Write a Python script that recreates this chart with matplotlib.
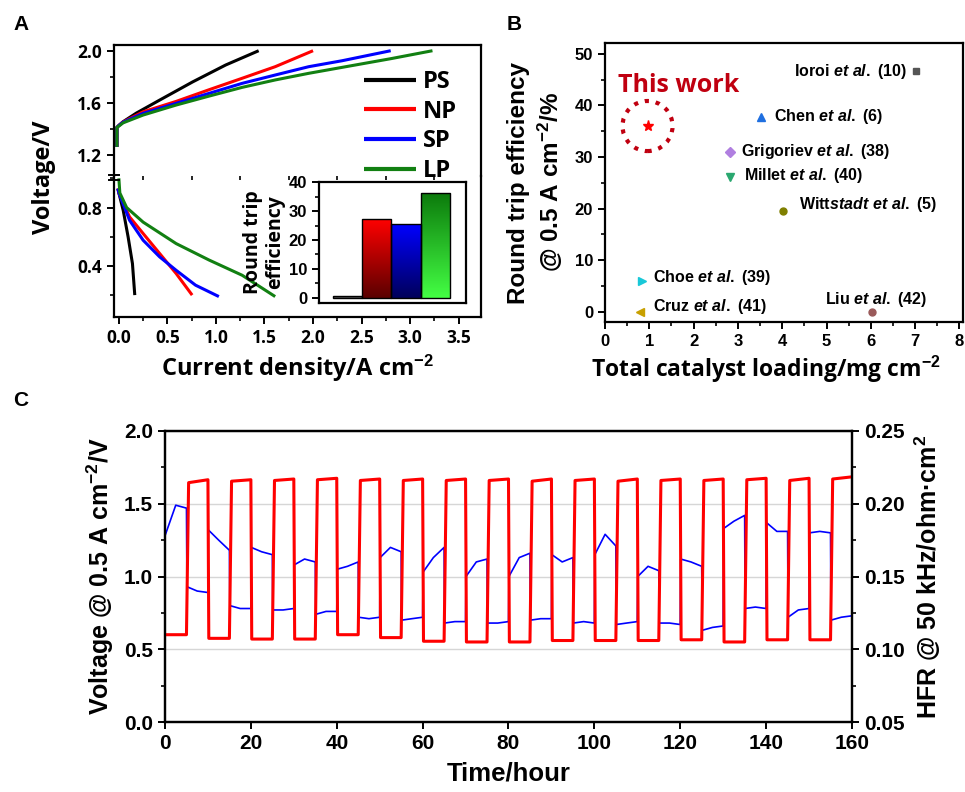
import numpy as np
import matplotlib.pyplot as plt
from matplotlib.colors import LinearSegmentedColormap
from matplotlib.ticker import MultipleLocator
from matplotlib.lines import Line2D

plt.rcParams['font.family'] = ['Liberation Sans', 'DejaVu Sans']
plt.rcParams['font.weight'] = 'bold'
plt.rcParams['axes.labelweight'] = 'bold'
plt.rcParams['mathtext.fontset'] = 'custom'
plt.rcParams['mathtext.rm'] = 'Liberation Sans:bold'
plt.rcParams['mathtext.it'] = 'Liberation Sans:italic:bold'
plt.rcParams['mathtext.bf'] = 'Liberation Sans:bold'
plt.rcParams['axes.linewidth'] = 1.6
for a in ['xtick', 'ytick']:
    plt.rcParams[a + '.major.width'] = 1.4
    plt.rcParams[a + '.minor.width'] = 1.2
    plt.rcParams[a + '.major.size'] = 5
    plt.rcParams[a + '.minor.size'] = 3

# ---------------- data: panel A polarization curves ----------------
# electrolysis branch (upper)
ps_ec_j = [-0.02, -0.02, 0.0, 0.044, 0.18, 0.42, 0.76, 1.10, 1.44]
ps_ec_v = [1.26, 1.41, 1.425, 1.454, 1.52, 1.62, 1.76, 1.89, 2.0]
np_ec_j = [-0.02, -0.02, 0.0, 0.044, 0.25, 0.59, 0.93, 1.27, 1.61, 2.0]
np_ec_v = [1.26, 1.41, 1.425, 1.452, 1.53, 1.61, 1.70, 1.788, 1.877, 2.0]
sp_ec_j = [-0.02, -0.02, 0.0, 0.044, 0.25, 0.59, 0.93, 1.27, 1.61, 1.955, 2.30, 2.80]
sp_ec_v = [1.26, 1.41, 1.425, 1.45, 1.518, 1.595, 1.672, 1.749, 1.813, 1.877, 1.923, 2.0]
lp_ec_j = [-0.02, -0.02, 0.0, 0.044, 0.25, 0.59, 0.93, 1.27, 1.61, 1.955, 2.30, 2.81, 3.23]
lp_ec_v = [1.26, 1.41, 1.42, 1.445, 1.505, 1.582, 1.651, 1.718, 1.775, 1.826, 1.872, 1.94, 2.0]
# fuel cell branch (lower)
ps_fc_j = [-0.01, 0.0, 0.045, 0.095, 0.14, 0.164]
ps_fc_v = [0.93, 0.9, 0.78, 0.60, 0.416, 0.2]
np_fc_j = [-0.01, 0.0, 0.11, 0.25, 0.42, 0.59, 0.755]
np_fc_v = [0.93, 0.9, 0.736, 0.622, 0.485, 0.348, 0.2]
sp_fc_j = [-0.01, 0.0, 0.11, 0.25, 0.42, 0.59, 0.79, 1.03]
sp_fc_v = [0.93, 0.9, 0.713, 0.576, 0.462, 0.37, 0.268, 0.19]
lp_fc_j = [0.0, 0.01, 0.08, 0.25, 0.59, 0.93, 1.27, 1.61]
lp_fc_v = [1.0, 0.90, 0.80, 0.70, 0.553, 0.44, 0.336, 0.19]

samples = ['PS', 'NP', 'SP', 'LP']
sample_colors = ['black', '#ff0000', '#0000ff', '#128012']
rte = [0.6, 27.3, 25.6, 36.2]  # inset bars

# ---------------- data: panel B ----------------
ref_x = [7.03, 3.52, 2.83, 2.83, 4.02, 0.83, 0.80, 6.03]
ref_y = [46.6, 37.8, 30.95, 26.2, 19.6, 6.0, 0.0, 0.0]
ref_labels = [r'Ioroi $\mathit{et\ al.}$ ($\mathit{10}$)',
              r'Chen $\mathit{et\ al.}$ ($\mathit{6}$)',
              r'Grigoriev $\mathit{et\ al.}$ (38)',
              r'Millet $\mathit{et\ al.}$ (40)',
              r'Witt$\mathit{stadt\ et\ al.}$ ($\mathit{5}$)',
              r'Choe $\mathit{et\ al.}$ (39)',
              r'Cruz $\mathit{et\ al.}$ (41)',
              r'Liu $\mathit{et\ al.}$ (42)']
ref_markers = ['s', '^', 'D', 'v', 'o', '>', '<', 'o']
ref_colors = ['#555555', '#1f6fe0', '#b07fe0', '#2aa870', '#7f7f00', '#18c8d8', '#c8a000', '#9a5a5a']
label_x = [6.80, 3.81, 3.07, 3.13, 4.37, 1.08, 1.08, 4.96]
label_y = [46.5, 37.8, 31.0, 26.45, 20.7, 6.6, 0.97, 2.3]
this_x, this_y = 0.96, 36.0

# ---------------- data: panel C (5 h segments, 0-160 h) ----------------
seg_t = np.arange(0, 161, 5)
red_low = [0.60, 0.575, 0.57, 0.57, 0.60, 0.58, 0.555, 0.55,
           0.55, 0.56, 0.56, 0.56, 0.565, 0.55, 0.565, 0.565]
red_high_start = [1.645, 1.655, 1.66, 1.665, 1.66, 1.66, 1.66, 1.66,
                  1.655, 1.66, 1.655, 1.66, 1.66, 1.665, 1.66, 1.67]
red_high_end = [1.665, 1.665, 1.67, 1.675, 1.67, 1.67, 1.67, 1.67,
                1.67, 1.67, 1.67, 1.67, 1.67, 1.675, 1.675, 1.685]
hfr = [(0.178, 0.199, 0.197), (0.143, 0.140, 0.139), (0.182, 0.175, 0.168), (0.130, 0.128, 0.128),
       (0.170, 0.167, 0.165), (0.127, 0.127, 0.128), (0.158, 0.162, 0.160), (0.124, 0.126, 0.126),
       (0.155, 0.157, 0.160), (0.122, 0.121, 0.122), (0.163, 0.170, 0.167), (0.120, 0.121, 0.122),
       (0.153, 0.163, 0.170), (0.118, 0.119, 0.119), (0.150, 0.160, 0.162), (0.118, 0.118, 0.119),
       (0.150, 0.163, 0.166), (0.120, 0.121, 0.121), (0.165, 0.160, 0.163), (0.118, 0.119, 0.118),
       (0.165, 0.179, 0.171), (0.117, 0.118, 0.119), (0.150, 0.157, 0.154), (0.118, 0.118, 0.117),
       (0.162, 0.160, 0.157), (0.113, 0.115, 0.116), (0.183, 0.188, 0.192), (0.128, 0.129, 0.128),
       (0.187, 0.181, 0.181), (0.122, 0.127, 0.128), (0.180, 0.181, 0.180), (0.120, 0.122, 0.123)]

W, H = 965, 792


def box(l, t, r, b):
    return [l / W, 1 - b / H, (r - l) / W, (b - t) / H]


fig = plt.figure(figsize=(W / 100, H / 100), dpi=100)

# ================= Panel A =================
axl = fig.add_axes(box(114, 176, 481, 317), zorder=1)
axu = fig.add_axes(box(114, 45, 481, 176), zorder=2, sharex=axl)
axu.patch.set_visible(False)

ec = [(ps_ec_j, ps_ec_v), (np_ec_j, np_ec_v), (sp_ec_j, sp_ec_v), (lp_ec_j, lp_ec_v)]
fc = [(ps_fc_j, ps_fc_v), (np_fc_j, np_fc_v), (sp_fc_j, sp_fc_v), (lp_fc_j, lp_fc_v)]
for (j, v), name, c in zip(ec, samples, sample_colors):
    axu.plot(j, v, color=c, lw=2.2, label=name, solid_capstyle='butt', solid_joinstyle='round')
for (j, v), c in zip(fc, sample_colors):
    axl.plot(j, v, color=c, lw=2.2, solid_capstyle='butt', solid_joinstyle='round')

axl.set_xlim(-0.05, 3.73)
axu.set_ylim(1.036, 2.044)
axl.set_ylim(0.05, 1.016)
axu.spines['bottom'].set_visible(False)
axl.spines['top'].set_visible(False)
axu.tick_params(axis='x', bottom=False, labelbottom=False)
axu.set_yticks([1.2, 1.6, 2.0])
axu.yaxis.set_minor_locator(MultipleLocator(0.2))
axl.set_yticks([0.4, 0.8])
axl.yaxis.set_minor_locator(MultipleLocator(0.2))
axl.set_xticks(np.arange(0, 3.6, 0.5))
axl.xaxis.set_minor_locator(MultipleLocator(0.25))
for ax in (axu, axl):
    ax.tick_params(which='both', direction='out', labelsize=12.5)
    for lab in ax.get_xticklabels() + ax.get_yticklabels():
        lab.set_fontfamily('Open Sans')
axl.set_xlabel('Current density/A cm$^{-2}$', fontsize=17, family='Open Sans', labelpad=4)
fig.text(44 / W, 1 - 177 / H, 'Voltage/V', rotation=90, fontsize=17, family='Open Sans',
         fontweight='bold', ha='center', va='center')
# axis break marks
for yy in (175, 180):
    fig.add_artist(Line2D([109 / W, 119 / W], [1 - yy / H, 1 - yy / H], color='black', lw=1.4))

leg = axu.legend(loc='upper left', bbox_to_anchor=(364 / W, 1 - 70 / H), bbox_transform=fig.transFigure,
                 frameon=False, handlelength=2.2, handletextpad=0.3, labelspacing=0.24,
                 borderaxespad=0, borderpad=0,
                 prop={'family': 'Open Sans', 'weight': 'bold', 'size': 17})
for ln in leg.get_lines():
    ln.set_linewidth(3)

# inset bars
ins = fig.add_axes(box(319, 182, 466, 303), zorder=3)
bar_cmaps = [['#4a4a4a', '#8a8a8a'], ['#5a0000', '#ff0000'], ['#00005a', '#0000ff'], ['#44ff44', '#0c7a0c']]
bars = ins.bar(range(1, 5), rte, width=1.0, facecolor='none', edgecolor='black', lw=1.0, zorder=3)
grad = np.linspace(0, 1, 256).reshape(-1, 1)
for b, cols in zip(bars, bar_cmaps):
    cm = LinearSegmentedColormap.from_list('g', cols)
    x0 = b.get_x()
    ins.imshow(grad, extent=(x0, x0 + b.get_width(), 0, b.get_height()), cmap=cm,
               aspect='auto', origin='lower', zorder=2)
ins.set_xlim(0.02, 5.05)
ins.set_ylim(-1.8, 40.1)
ins.set_xticks([])
ins.set_yticks([0, 10, 20, 30, 40])
ins.yaxis.set_minor_locator(MultipleLocator(5))
ins.tick_params(which='both', direction='out', labelsize=12)
ins.set_ylabel('Round trip\nefficiency', fontsize=14, family='Open Sans', labelpad=3, linespacing=1.1)

# ================= Panel B =================
axb = fig.add_axes(box(605, 43, 963, 322))
for x, y, m, c in zip(ref_x, ref_y, ref_markers, ref_colors):
    axb.plot(x, y, marker=m, color=c, markersize=5 if m in 'so' else 5.5, ls='none', clip_on=False)
for x, y, s in zip(label_x, label_y, ref_labels):
    axb.text(x, y, s, fontsize=11.5, fontweight='bold', ha='right' if s.startswith('Ioroi') else 'left',
             va='center')
axb.plot(this_x, this_y, marker='*', color='#ff0000', markersize=8, ls='none')
axb.scatter([this_x], [this_y], s=1300, facecolors='none', edgecolors='#c00010', linewidths=3,
            linestyles=':')
axb.text(0.3, 43.9, 'This work', color='#c00010', fontsize=18, fontweight='bold', family='Open Sans',
         va='center')
axb.set_xlim(0, 8.08)
axb.set_ylim(-2, 52.1)
axb.set_xticks(range(0, 9))
axb.xaxis.set_minor_locator(MultipleLocator(0.5))
axb.set_yticks(range(0, 51, 10))
axb.yaxis.set_minor_locator(MultipleLocator(5))
axb.tick_params(which='both', direction='out', labelsize=12)
axb.set_xlabel('Total catalyst loading/mg cm$^{-2}$', fontsize=16.5, family='Open Sans')
axb.xaxis.set_label_coords(0.45, -0.115)
axb.set_ylabel('Round trip efficiency\n@ 0.5 A cm$^{-2}$/%', fontsize=17.5, labelpad=7, linespacing=1.25)

# ================= Panel C =================
axc = fig.add_axes(box(165, 431, 852, 722))
axr = axc.twinx()
axc.set_zorder(axr.get_zorder() + 1)
axc.patch.set_visible(False)
axr.patch.set_visible(True)

red_t, red_v = [], []
blue_t, blue_h = [], []
for i in range(len(seg_t) - 1):
    t0, t1 = seg_t[i], seg_t[i + 1]
    if i % 2 == 0:
        a = b = red_low[i // 2]
        lag = 0.2
    else:
        a, b = red_high_start[i // 2], red_high_end[i // 2]
        lag = 0.5
    red_t += [t0 + (lag if i > 0 else 0), t1]
    red_v += [a, b]
    h0, h1, h2 = hfr[i]
    blue_t += [t0 + (0.1 if i > 0 else 0), (t0 + t1) / 2, t1]
    blue_h += [h0, h1, h2]

axr.plot(blue_t, blue_h, color='#0000ff', lw=1.2)
axc.plot(red_t, red_v, color='#ff0000', lw=2.2)
axc.set_xlim(0, 160)
axc.set_ylim(0, 2.0)
axr.set_ylim(0.05, 0.25)
axc.set_xticks(range(0, 161, 20))
axc.set_yticks([0, 0.5, 1.0, 1.5, 2.0])
axc.yaxis.set_minor_locator(MultipleLocator(0.25))
axr.set_yticks([0.05, 0.10, 0.15, 0.20, 0.25])
axr.yaxis.set_minor_locator(MultipleLocator(0.025))
axr.grid(True, color='#d6d6d6', lw=1.0)
axr.xaxis.grid(True, color='#d6d6d6', lw=1.0)
for ax in (axc, axr):
    ax.tick_params(which='both', direction='out', labelsize=15)
axc.yaxis.set_major_formatter(plt.FormatStrFormatter('%.1f'))
axr.yaxis.set_major_formatter(plt.FormatStrFormatter('%.2f'))
axc.set_xlabel('Time/hour', fontsize=18.5, labelpad=6)
axc.set_ylabel('Voltage @ 0.5 A cm$^{-2}$/V', fontsize=18, labelpad=6)
axr.set_ylabel('HFR @ 50 kHz/ohm·cm$^2$', fontsize=18, labelpad=6)

# panel letters
fig.text(13 / W, 1 - 15 / H, 'A', fontsize=15, fontweight='bold', va='top')
fig.text(507 / W, 1 - 15 / H, 'B', fontsize=15, fontweight='bold', va='top')
fig.text(13 / W, 1 - 391 / H, 'C', fontsize=15, fontweight='bold', va='top')

fig.savefig('out.png', dpi=100)
